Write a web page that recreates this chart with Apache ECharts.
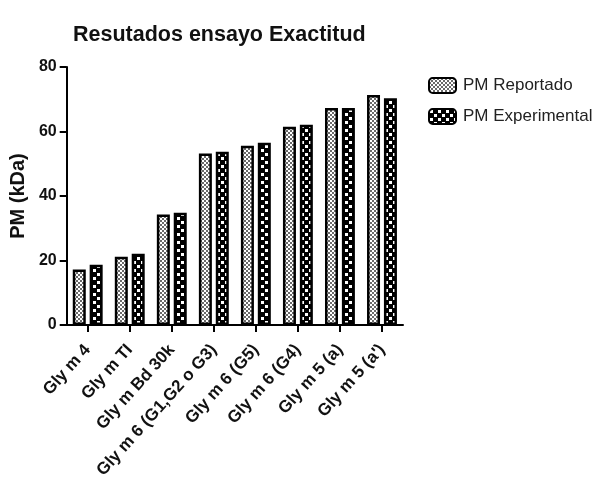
<!DOCTYPE html>
<html><head><meta charset="utf-8">
<script src="https://cdn.jsdelivr.net/npm/echarts@6/dist/echarts.min.js"></script>
<style>html,body{margin:0;padding:0;background:#fff}#c{width:601px;height:486px}</style>
</head><body><div id="c"></div>
<script>
var categories = ['Gly m 4','Gly m TI','Gly m Bd 30k','Gly m 6 (G1,G2 o G3)','Gly m 6 (G5)','Gly m 6 (G4)','Gly m 5 (a)',"Gly m 5 (a')"];
var pmReportado = [17.2, 21.2, 34.3, 53.2, 55.6, 61.5, 67.3, 71.3];
var pmExperimental = [18.7, 22.1, 34.8, 53.7, 56.5, 62.1, 67.3, 70.3];
var yTicks = [0, 20, 40, 60, 80];

function pattern(kind){
  var c = document.createElement('canvas');
  var ctx = c.getContext('2d');
  if(kind==='fine'){
    c.width=4;c.height=4;
    ctx.fillStyle='#ffffff';ctx.fillRect(0,0,4,4);
    ctx.fillStyle='#6a6a6a';
    ctx.fillRect(0,0,2,2);ctx.fillRect(2,2,2,2);
  } else {
    c.width=8;c.height=8;
    ctx.fillStyle='#000000';ctx.fillRect(0,0,8,8);
    ctx.fillStyle='#ffffff';
    ctx.fillRect(1,1,3,3);ctx.fillRect(5,5,3,3);
  }
  return {image:c, repeat:'repeat'};
}

var font = '"Liberation Sans", Arial, sans-serif';
var chart = echarts.init(document.getElementById('c'), null, {renderer:'canvas'});
chart.setOption({
  animation:false,
  backgroundColor:'#fff',
  title:{text:'Resutados ensayo Exactitud', left:68, top:19,
    textStyle:{fontFamily:font, fontSize:21.5, fontWeight:'bold', color:'#111'}},
  legend:{orient:'vertical', left:423, top:72, itemWidth:27, itemHeight:15, itemGap:14,
    textStyle:{fontFamily:font, fontSize:17, color:'#222', padding:[0,0,0,2]},
    data:['PM Reportado','PM Experimental']},
  grid:{left:63, top:67, right:198, bottom:161, containLabel:false},
  xAxis:{type:'category', data:categories,
    axisLine:{lineStyle:{color:'#000', width:2}},
    axisTick:{show:true, length:7, alignWithLabel:true, lineStyle:{color:'#000', width:2}},
    axisLabel:{rotate:48, interval:0, margin:22, fontFamily:font, fontSize:17, fontWeight:'bold', color:'#111'}},
  yAxis:{type:'value', min:0, max:80, interval:20,
    name:'PM (kDa)', nameLocation:'middle', nameGap:35, nameRotate:90,
    nameTextStyle:{fontFamily:font, fontSize:20, fontWeight:'bold', color:'#111'},
    axisLine:{show:true, lineStyle:{color:'#000', width:2}},
    axisTick:{show:true, length:7, lineStyle:{color:'#000', width:2}},
    splitLine:{show:false},
    axisLabel:{fontFamily:font, fontSize:16, fontWeight:'bold', color:'#111', margin:10,
      formatter:function(v){return yTicks.indexOf(v)>=0?String(v):'';}}},
  series:[
    {name:'PM Reportado', type:'bar', data:pmReportado, barWidth:13, barGap:'30%',
      itemStyle:{color:pattern('fine'), borderColor:'#000', borderWidth:2.5}},
    {name:'PM Experimental', type:'bar', data:pmExperimental, barWidth:13,
      itemStyle:{color:pattern('checker'), borderColor:'#000', borderWidth:2.5}}
  ]
});
</script></body></html>
